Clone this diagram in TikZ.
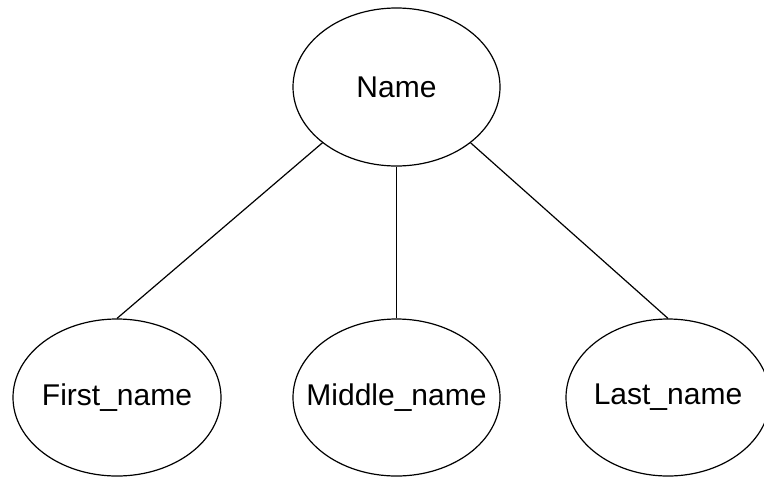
\documentclass[tikz,border=0pt]{standalone}
\usepackage{fontspec}
\setmainfont{Liberation Sans}
\usetikzlibrary{shapes.geometric}
\begin{document}
\begin{tikzpicture}[x=0.5pt,y=-0.5pt]
            \tikzstyle{every node}+=[inner sep=0pt]
            \tikzstyle{attr}=[draw=black, ellipse, inner xsep=-12pt, line width=0.6pt, minimum width=104pt, minimum height=78.5pt, font=\fontsize{15}{18}\selectfont]
            \useasboundingbox (0,0) rectangle (764,477);
            \node [attr, minimum width=103.5pt, minimum height=79pt] (name) at (396.5,87) {Name};
            \node [attr] (first) at (117,397.5) {First\_name};
            \node [attr, minimum width=103.5pt] (middle) at (396.5,397.5) {Middle\_name};
            \node [attr, minimum width=102pt] (last) at (668,397.5) {Last\_name};
            \draw [black, line width=0.6pt] (name.217) -- (first.north);
            \draw [black, line width=0.6pt] (name.south) -- (middle.north);
            \draw [black, line width=0.6pt] (name.323) -- (last.north);
        \end{tikzpicture}
\end{document}
